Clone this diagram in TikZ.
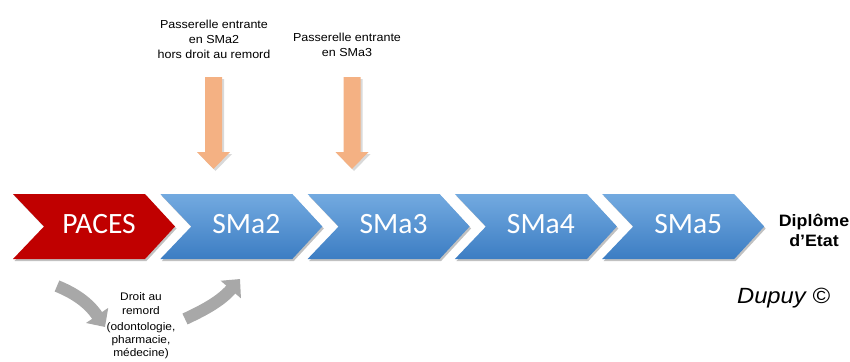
\documentclass[tikz,border=0pt]{standalone}
\usepackage{fontspec}
\setmainfont[FakeStretch=1.08]{Liberation Sans}
\newfontfamily\calib{Carlito}
\usetikzlibrary{arrows.meta,shadows,calc}
\definecolor{pacesred}{RGB}{192,0,0}
\definecolor{bluetop}{RGB}{115,170,224}
\definecolor{bluebot}{RGB}{60,125,195}
\definecolor{orangearr}{RGB}{244,177,131}
\definecolor{grayarr}{RGB}{168,168,168}
\tikzset{
  chevshadow/.style={drop shadow={opacity=0.35,shadow xshift=1.5pt,shadow yshift=-2pt,fill=black!70}},
  bluechev/.style={top color=bluetop,bottom color=bluebot,chevshadow},
  redchev/.style={fill=pacesred,chevshadow},
  chevtext/.style={text=white,font=\calib\fontsize{29.5}{32}\selectfont,inner sep=0pt,anchor=base},
  smalltext/.style={font=\fontsize{11.6}{15}\selectfont,align=center,inner sep=0pt},
  downarrow/.style={fill=orangearr,drop shadow={opacity=0.3,shadow xshift=2pt,shadow yshift=-2pt}},
  grayarrow/.style={draw=grayarr,line width=12pt,-{Triangle[width=26pt,length=14pt]}},
}
\begin{document}
\begin{tikzpicture}[x=1pt,y=-1pt]
\useasboundingbox (0,0) rectangle (850,361);
% chevrons
\foreach \i/\lab/\st in {0/PACES/redchev,1/SMa2/bluechev,2/SMa3/bluechev,3/SMa4/bluechev,4/SMa5/bluechev}{
  \pgfmathsetmacro{\xo}{13+147.3*\i}
  \path[\st] (\xo,194) -- ++(132,0) -- ++(30,32.5) -- ++(-30,32.5) -- ++(-132,0) -- ++(31,-32.5) -- cycle;
  \node[chevtext] (c\i) at (\xo+86,233.5) {\lab};
}
% down arrows
\foreach \cx/\nm in {213.5/a1,352/a2}{
  \path[downarrow] (\cx-8.5,77) -- (\cx+8.5,77) -- (\cx+8.5,152) -- (\cx+16.5,152) -- (\cx,169) -- (\cx-16.5,152) -- (\cx-8.5,152) -- cycle;
  \coordinate (\nm) at (\cx,169);
}
\node[smalltext] (t1) at (214,39) {Passerelle entrante\\en SMa2\\hors droit au remord};
\node[smalltext] (t2) at (347,45) {Passerelle entrante\\en SMa3};
% remord
\node[smalltext,font=\fontsize{11}{14}\selectfont] (r1) at (141,304) {Droit au\\remord};
\node[smalltext,font=\fontsize{11}{13}\selectfont] (r2) at (141,341) {(odontologie,\\pharmacie,\\médecine)};
\coordinate (g1s) at (57,286);
\coordinate (g1e) at (105,327);
\coordinate (g2s) at (185,319);
\coordinate (g2e) at (240,279);
\draw[grayarrow] (g1s) .. controls (74,293) and (88,302) .. (g1e);
\draw[grayarrow] (g2s) .. controls (202,311) and (220,302) .. (g2e);
% right texts
\node[smalltext,font=\bfseries\fontsize{16.5}{20}\selectfont] (de) at (814,230.5) {Diplôme\\d’Etat};
\node[font=\itshape\fontsize{22}{24}\selectfont,inner sep=0pt,anchor=base] (cp) at (783.5,303) {Dupuy ©};
\end{tikzpicture}
\end{document}
